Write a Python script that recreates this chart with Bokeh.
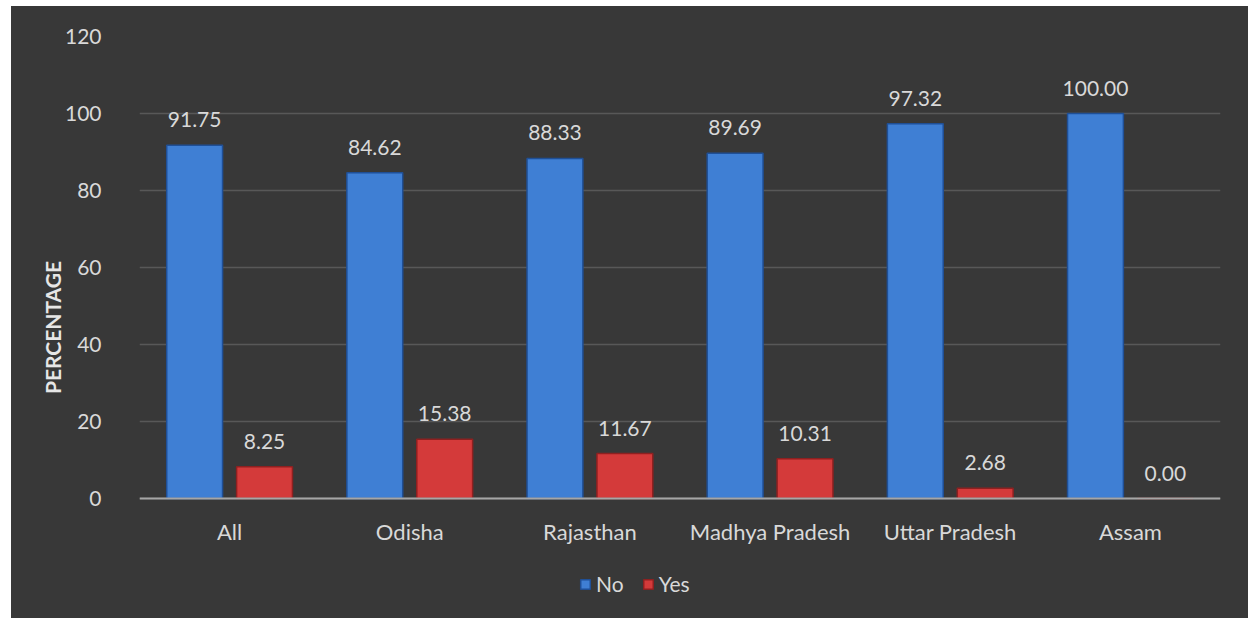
from bokeh.plotting import figure
from bokeh.models import ColumnDataSource, FactorRange, Range1d, Legend, LegendItem, FixedTicker, Span
from bokeh.transform import dodge
from bokeh.core.properties import value
from bokeh.embed import file_html
from bokeh.resources import INLINE

categories = ["All", "Odisha", "Rajasthan", "Madhya Pradesh", "Uttar Pradesh", "Assam"]
no_values = [91.75, 84.62, 88.33, 89.69, 97.32, 100.00]
yes_values = [8.25, 15.38, 11.67, 10.31, 2.68, 0.00]
y_ticks = [0, 20, 40, 60, 80, 100, 120]

src = ColumnDataSource(dict(
    cat=categories,
    zero=[0] * len(categories),
    no=no_values,
    yes=yes_values,
    no_lbl=["%.2f" % v for v in no_values],
    yes_lbl=["%.2f" % v for v in yes_values],
))

BG = "#383838"
TXT = "#d9d9d9"
FONT = "Lato"

Y_MAX = 120
# frame extends below zero so the category labels and legend sit inside it
Y_MIN = -Y_MAX * 120 / 462

p = figure(
    width=1237, height=612,
    x_range=FactorRange(*categories, range_padding=0),
    y_range=Range1d(Y_MIN, Y_MAX),
    output_backend="svg", toolbar_location=None,
    min_border_left=128, min_border_right=28, min_border_top=30, min_border_bottom=0,
)
p.margin = (6, 0, 0, 11)
p.styles = {"background-color": BG}
p.background_fill_alpha = 0
p.border_fill_alpha = 0
p.outline_line_color = None

off = 0.194
w = 0.31
r_no = p.vbar(x=dodge("cat", -off, range=p.x_range), top="no", width=w, source=src,
              fill_color="#3f7fd4", line_color="#1f4f96", line_width=1.5)
r_yes = p.vbar(x=dodge("cat", off, range=p.x_range), top="yes", width=w, source=src,
               fill_color="#d43a3a", line_color="#8e2020", line_width=1.5)

for col, lbl, dx in (("no", "no_lbl", -off), ("yes", "yes_lbl", off)):
    p.text(x=dodge("cat", dx, range=p.x_range), y=col, text=lbl, source=src,
           text_align="center", text_baseline="bottom", y_offset=-18,
           text_color=TXT, text_font=value(FONT), text_font_size="21px")

# category labels under the baseline
p.text(x="cat", y="zero", text="cat", source=src, text_align="center",
       text_baseline="middle", y_offset=33,
       text_color=TXT, text_font=value(FONT), text_font_size="22px")

p.add_layout(Span(location=0, dimension="width", line_color="#a6a6a6", line_width=2))

p.xaxis.visible = False
p.xgrid.grid_line_color = None
p.ygrid.grid_line_color = "#585858"
p.ygrid.grid_line_width = 1.5
p.yaxis.ticker = FixedTicker(ticks=y_ticks)

p.yaxis.axis_line_color = None
p.yaxis.major_tick_line_color = None
p.yaxis.minor_tick_line_color = None
p.yaxis.major_label_text_color = TXT
p.yaxis.major_label_text_font = FONT
p.yaxis.major_label_text_font_size = "21px"
p.yaxis.major_label_standoff = 32
p.yaxis.axis_label = "PERCENTAGE"
p.yaxis.axis_label_text_font = FONT
p.yaxis.axis_label_text_font_style = "bold"
p.yaxis.axis_label_text_font_size = "21px"
p.yaxis.axis_label_text_color = "#e6e6e6"
p.yaxis.axis_label_standoff = -3

legend = Legend(items=[LegendItem(label="No", renderers=[r_no]),
                       LegendItem(label="Yes", renderers=[r_yes])],
                orientation="horizontal", location=(440, 22),
                background_fill_alpha=0, border_line_color=None,
                label_text_color=TXT, label_text_font=FONT, label_text_font_size="21px",
                glyph_width=12, glyph_height=12, spacing=18, label_standoff=5,
                margin=0, padding=0)
p.add_layout(legend, "center")

open("out.html", "w").write(file_html(p, INLINE))
